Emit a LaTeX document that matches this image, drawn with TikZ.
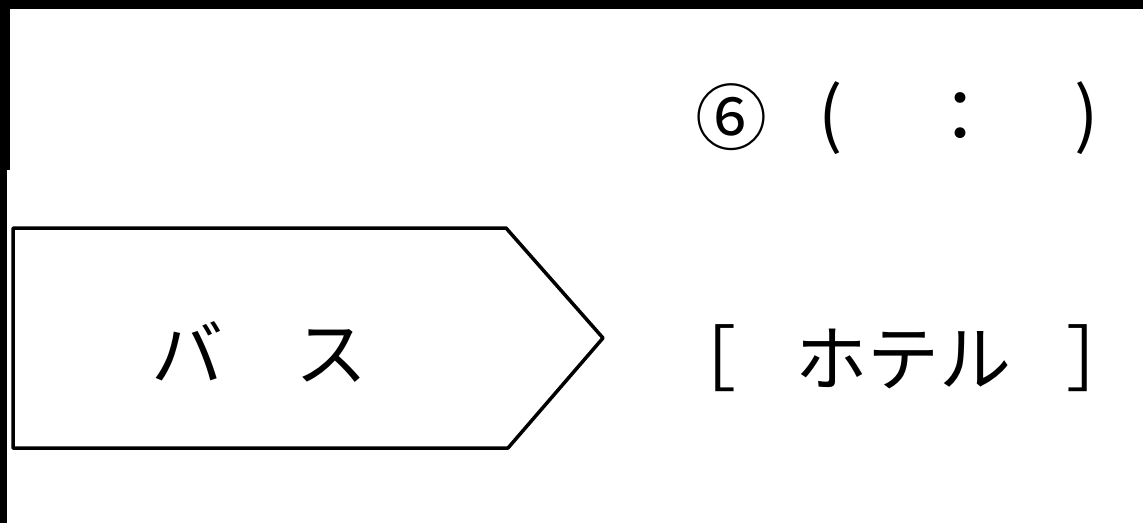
\documentclass[tikz,border=0pt]{standalone}
\usepackage{fontspec}
\newfontfamily\jp{Noto Sans CJK JP}
\tikzset{
  jptext/.style={inner sep=0pt, font=\jp\fontsize{72}{80}\selectfont},
  signbox/.style={draw=black, line width=3.5pt, line join=round, fill=white},
  bar/.style={fill=black, draw=none}
}
\begin{document}
\begin{tikzpicture}[x=1pt,y=-1pt]
  \useasboundingbox (0,0) rectangle (1143,523);
  \fill[white] (0,0) rectangle (1143,523);
  % frame bars
  \fill[bar] (0,0) rectangle (1143,9);
  \fill[bar] (0,0) rectangle (10,170);
  \fill[bar] (0,170) rectangle (7,523);
  % pentagon sign
  \draw[signbox] (13,228) -- (506,228) -- (603,338) -- (508,448) -- (13,448) -- cycle;
  \node[jptext] (bus) at (259,352) {バ　ス};
  % time line
  \node[jptext] (six) at (731,117) {⑥};
  \node[jptext] (lp) at (831,118) {(};
  \node[jptext] (colon) at (960,118) {：};
  \node[jptext] (rp) at (1087,118) {)};
  % hotel
  \node[jptext] (lb) at (700,358) {［};
  \node[jptext] (hotel) at (903,359) {ホテル};
  \node[jptext] (rb) at (1102,358) {］};
\end{tikzpicture}
\end{document}
